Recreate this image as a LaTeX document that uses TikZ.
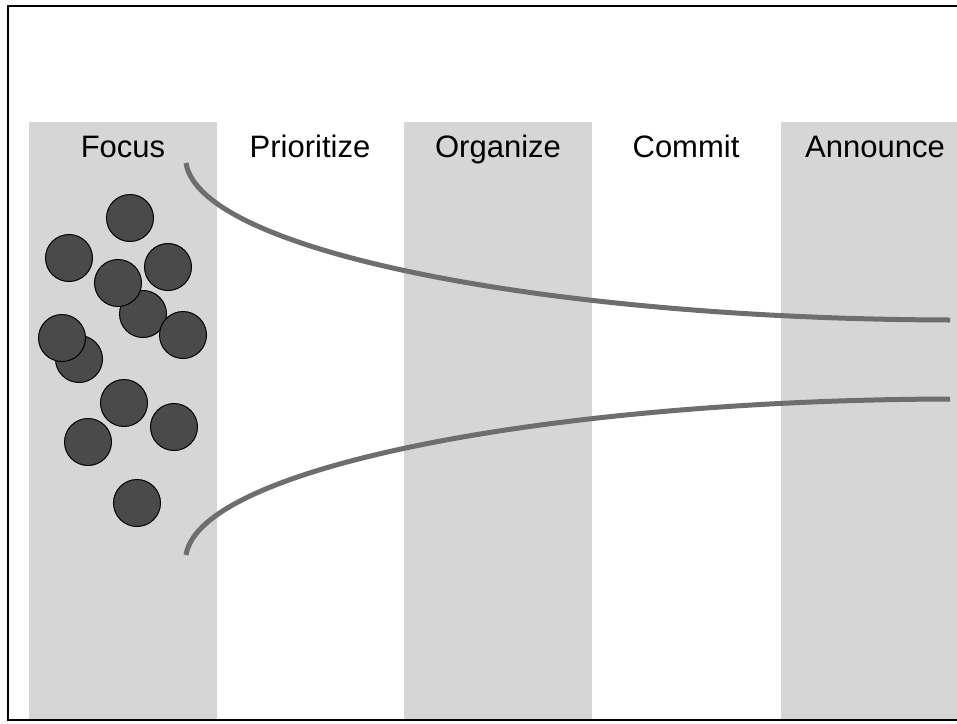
\documentclass[tikz,border=0pt]{standalone}
\usepackage{fontspec}
\setmainfont{Liberation Sans}
\definecolor{colfill}{RGB}{214,214,214}
\definecolor{dotfill}{RGB}{74,74,74}
\definecolor{curvecol}{RGB}{110,110,110}
\tikzset{
  column/.style={fill=colfill,draw=none},
  label/.style={anchor=base,inner sep=0pt,font=\fontsize{31}{36}\selectfont},
  dot/.style={circle,draw=black,line width=1pt,fill=dotfill,minimum size=47pt,inner sep=0pt},
  funnel/.style={draw=curvecol,line width=5pt}
}
\begin{document}
\begin{tikzpicture}[x=1pt,y=-1pt]
\useasboundingbox (0,0) rectangle (957,723);
% columns
\fill[column] (29,122) rectangle (217,719);
\fill[column] (404,122) rectangle (592,719);
\fill[column] (781,122) rectangle (957,719);
% frame
\draw[line width=2pt] (957,6) -- (8,6) -- (8,720) -- (957,720);
% labels
\node[label] (focus) at (123,157) {Focus};
\node[label] (prio) at (310,157) {Prioritize};
\node[label] (org) at (498,157) {Organize};
\node[label] (commit) at (686,157) {Commit};
\node[label] (announce) at (875,157) {Announce};
% dots
\node[dot] (d1) at (130,218) {};
\node[dot] (d2) at (69,258) {};
\node[dot] (d3) at (168,267) {};
\node[dot] (d5) at (143,314) {};
\node[dot] (d4) at (118,283) {};
\node[dot] (d6) at (183,335) {};
\node[dot] (d7) at (79,359) {};
\node[dot] (d8) at (62,338) {};
\node[dot] (d9) at (124,403) {};
\node[dot] (d10) at (174,427) {};
\node[dot] (d11) at (88,442) {};
\node[dot] (d12) at (137,503) {};
% funnel curves
\coordinate (ts) at (186,163);
\coordinate (te) at (950,320);
\coordinate (bs) at (186,555);
\coordinate (be) at (950,399);
\draw[funnel] (ts) .. controls (200,252) and (550,319) .. (te);
\draw[funnel] (bs) .. controls (200,467) and (550,400) .. (be);
\end{tikzpicture}
\end{document}
